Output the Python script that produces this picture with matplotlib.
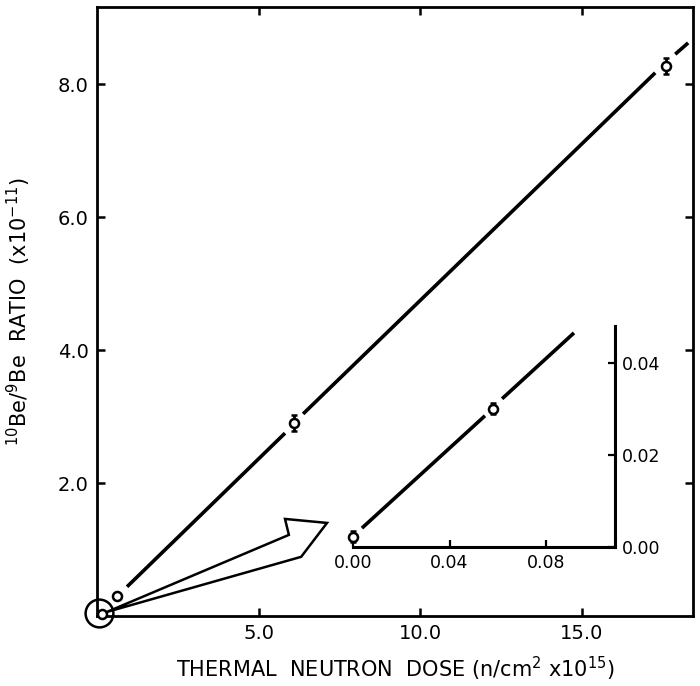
import matplotlib
matplotlib.use("Agg")
import matplotlib.pyplot as plt
from matplotlib.patches import Polygon

plt.rcParams['font.family'] = ['DejaVu Sans']

# main plot data (dose x1e15 n/cm2, ratio x1e-11)
dose = [0.15, 0.62, 6.1, 17.6]
ratio = [0.03, 0.30, 2.90, 8.27]
ratio_err = [0.0, 0.0, 0.12, 0.12]

# fitted line, drawn in pieces with gaps at the points
fit_x0 = [0.93, 6.38, 17.90]
fit_y0 = [0.44, 3.04, 8.45]
fit_x1 = [5.82, 17.28, 18.30]
fit_y1 = [2.75, 8.17, 8.62]

# inset data (low dose)
dose_low = [0.0, 0.058]
ratio_low = [0.0022, 0.030]
ratio_low_err = [0.0012, 0.0012]
fit_low_x0 = [0.0037, 0.0618]
fit_low_y0 = [0.0041, 0.0322]
fit_low_x1 = [0.0547, 0.0916]
fit_low_y1 = [0.0285, 0.0465]

# hollow arrow outline (main data coords)
arrow_x = [0.30, 5.94, 5.82, 7.12, 6.32]
arrow_y = [0.06, 1.22, 1.46, 1.40, 0.89]

fig = plt.figure(figsize=(7, 6.86), dpi=100)
ax = fig.add_axes([97 / 700, 70 / 686, 596 / 700, 609 / 686])

for x0, y0, x1, y1 in zip(fit_x0, fit_y0, fit_x1, fit_y1):
    ax.plot([x0, x1], [y0, y1], color='black', lw=2.6, solid_capstyle='butt')

ax.errorbar(dose, ratio, yerr=ratio_err, fmt='o', mfc='white', mec='black',
            mew=1.8, ms=6.5, ecolor='black', elinewidth=2, capsize=2.5,
            capthick=2, clip_on=False, zorder=5)

# big circle marking the origin region
ax.plot([0.06], [0.04], 'o', mfc='none', mec='black', mew=1.8, ms=20,
        clip_on=False, zorder=6)

ax.add_patch(Polygon(list(zip(arrow_x, arrow_y)), closed=True, fill=False,
                     ec='black', lw=1.8, joinstyle='miter', clip_on=False))

ax.set_xlim(0, 18.45)
ax.set_ylim(0, 9.16)
ax.set_xticks([5, 10, 15])
ax.set_xticklabels(['5.0', '10.0', '15.0'])
ax.set_yticks([2, 4, 6, 8])
ax.set_yticklabels(['2.0', '4.0', '6.0', '8.0'])
ax.tick_params(direction='in', length=6, width=1.8, labelsize=14,
               top=True, right=True, pad=6)
for s in ax.spines.values():
    s.set_linewidth(2)

ax.set_xlabel('THERMAL  NEUTRON  DOSE (n/cm$^{2}$ x10$^{15}$)', fontsize=15,
              labelpad=8)
ax.set_ylabel('${}^{10}$Be/${}^{9}$Be  RATIO  (x10$^{-11}$)', fontsize=15,
              labelpad=18)

# inset
ins = fig.add_axes([353 / 700, 139 / 686, 262 / 700, 221 / 686])
ins.patch.set_alpha(0)
for x0, y0, x1, y1 in zip(fit_low_x0, fit_low_y0, fit_low_x1, fit_low_y1):
    ins.plot([x0, x1], [y0, y1], color='black', lw=2.6, solid_capstyle='butt')
ins.errorbar(dose_low, ratio_low, yerr=ratio_low_err, fmt='o', mfc='white',
             mec='black', mew=1.8, ms=6.5, ecolor='black', elinewidth=2,
             capsize=2.5, capthick=2, clip_on=False, zorder=5)
ins.set_xlim(0, 0.1086)
ins.set_ylim(0, 0.048)
ins.spines['top'].set_visible(False)
ins.spines['left'].set_visible(False)
ins.spines['bottom'].set_linewidth(2.2)
ins.spines['right'].set_linewidth(2.2)
ins.set_xticks([0.0, 0.04, 0.08])
ins.set_xticklabels(['0.00', '0.04', '0.08'])
ins.set_yticks([0.0, 0.02, 0.04])
ins.set_yticklabels(['0.00', '0.02', '0.04'])
ins.yaxis.tick_right()
ins.tick_params(direction='in', length=5, width=1.6, labelsize=12.5, pad=5)
ins.tick_params(axis='y', left=False, right=True)

fig.savefig('out.png', dpi=100)
